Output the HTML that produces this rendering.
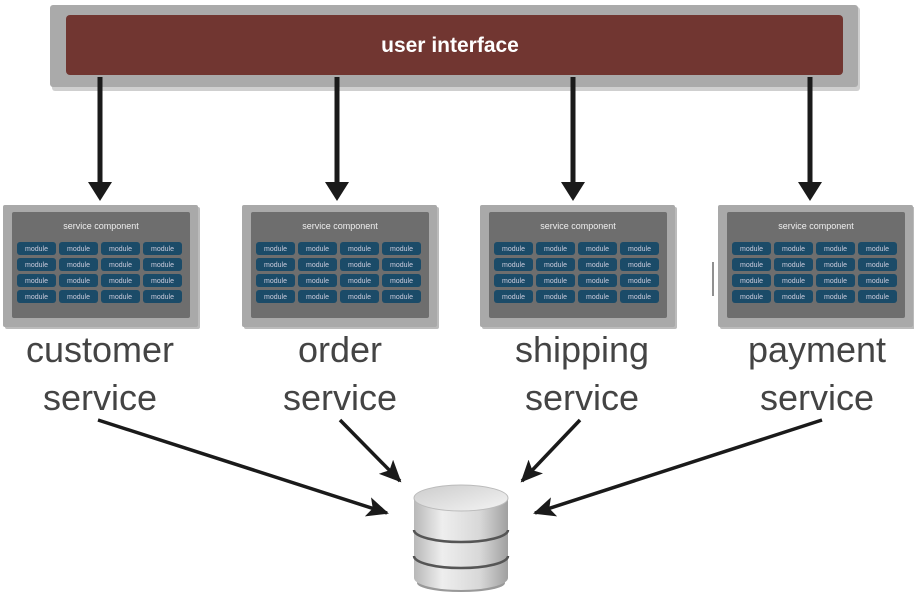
<!DOCTYPE html>
<html><head><style>body{margin:0;background:#fff}svg{display:block}</style></head><body>
<svg width="914" height="597" viewBox="0 0 914 597" xmlns="http://www.w3.org/2000/svg" font-family="Liberation Sans, sans-serif">
<defs>
<marker id="ab" markerWidth="22" markerHeight="20" refX="20" refY="10" orient="auto" markerUnits="userSpaceOnUse"><path d="M0,0 L22,10 L0,20 L5,10 z" fill="#1a1a1a"/></marker>
<linearGradient id="cyl" x1="0" x2="1"><stop offset="0" stop-color="#b8b8b8"/><stop offset="0.3" stop-color="#eee"/><stop offset="0.7" stop-color="#d8d8d8"/><stop offset="1" stop-color="#a0a0a0"/></linearGradient>
<linearGradient id="top" x1="0" y1="0" x2="1" y2="1"><stop offset="0" stop-color="#ccc"/><stop offset="1" stop-color="#f4f4f4"/></linearGradient>
</defs>
<rect x="52" y="7" width="808" height="84" rx="3" fill="#888" opacity="0.4"/>
<rect x="50" y="5" width="808" height="82" rx="3" fill="#aaa"/>
<rect x="66" y="15" width="777" height="60" rx="4" fill="#713631"/>
<text x="450" y="52" font-size="21" fill="#fff" text-anchor="middle" font-weight="bold">user interface</text>
<g stroke="#1a1a1a" stroke-width="5" fill="none">
<line x1="100" y1="77" x2="100" y2="190"/>
<line x1="337" y1="77" x2="337" y2="190"/>
<line x1="573" y1="77" x2="573" y2="190"/>
<line x1="810" y1="77" x2="810" y2="190"/>
</g>
<g fill="#1a1a1a">
<path d="M88,182 L112,182 L100,201 z"/>
<path d="M325,182 L349,182 L337,201 z"/>
<path d="M561,182 L585,182 L573,201 z"/>
<path d="M798,182 L822,182 L810,201 z"/>
</g>
<g id="sc">
<rect x="5" y="207" width="195" height="122" rx="2" fill="#777" opacity="0.5"/>
<rect x="3" y="205" width="195" height="122" rx="2" fill="#a9a9a9"/>
<rect x="12" y="212" width="178" height="106" rx="2" fill="#6e6e6e"/>
<text x="101" y="229" font-size="9" fill="#eee" text-anchor="middle">service component</text>
<g font-size="7" fill="#ccd" text-anchor="middle">
<g id="row">
<rect x="17" y="242" width="39" height="13" rx="3" fill="#1b4b68"/><text x="36.5" y="251">module</text>
<rect x="59" y="242" width="39" height="13" rx="3" fill="#1b4b68"/><text x="78.5" y="251">module</text>
<rect x="101" y="242" width="39" height="13" rx="3" fill="#1b4b68"/><text x="120.5" y="251">module</text>
<rect x="143" y="242" width="39" height="13" rx="3" fill="#1b4b68"/><text x="162.5" y="251">module</text>
</g>
<use href="#row" y="16"/><use href="#row" y="32"/><use href="#row" y="48"/>
</g>
</g>
<use href="#sc" x="239"/>
<use href="#sc" x="477"/>
<use href="#sc" x="715"/>
<line x1="713" y1="262" x2="713" y2="296" stroke="#222" stroke-width="1"/>
<g font-size="36" fill="#444" text-anchor="middle">
<text x="100" y="362">customer</text><text x="100" y="410">service</text>
<text x="340" y="362">order</text><text x="340" y="410">service</text>
<text x="582" y="362">shipping</text><text x="582" y="410">service</text>
<text x="817" y="362">payment</text><text x="817" y="410">service</text>
</g>
<g stroke="#1a1a1a" stroke-width="3.5">
<line x1="98" y1="420" x2="387" y2="513" marker-end="url(#ab)"/>
<line x1="340" y1="420" x2="400" y2="481" marker-end="url(#ab)"/>
<line x1="580" y1="420" x2="522" y2="481" marker-end="url(#ab)"/>
<line x1="822" y1="420" x2="535" y2="513" marker-end="url(#ab)"/>
</g>
<ellipse cx="461" cy="583" rx="44" ry="9" fill="#555" opacity="0.6"/>
<path d="M414,498 L414,578 A47,12 0 0 0 508,578 L508,498 z" fill="url(#cyl)"/>
<path d="M414,530 A47,12 0 0 0 508,530" stroke="#555" stroke-width="2.5" fill="none"/>
<path d="M414,556 A47,12 0 0 0 508,556" stroke="#555" stroke-width="2.5" fill="none"/>
<ellipse cx="461" cy="498" rx="47" ry="13" fill="url(#top)" stroke="#bbb"/>
</svg>
</body></html>
